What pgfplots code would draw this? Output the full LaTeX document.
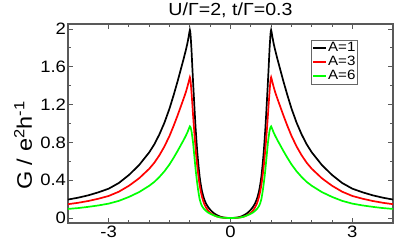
\documentclass[border=0pt]{standalone}
\usepackage{fontspec}
\setmainfont[FakeStretch=1.12]{Liberation Sans}
\usepackage{pgfplots}
\pgfplotsset{compat=1.18}
\pgfplotstableread{
x y
-4 0.195
-3.75 0.215
-3.5 0.24
-3.25 0.272
-3 0.31
-2.75 0.37
-2.5 0.455
-2.25 0.56
-2 0.695
-1.875 0.78
-1.75 0.885
-1.625 1.01
-1.5 1.16
-1.4 1.30
-1.3 1.45
-1.2 1.61
-1.15 1.69
-1.1 1.775
-1.06 1.85
-1.03 1.92
-1.01 1.97
-1 1.99
-0.99 1.97
-0.98 1.92
-0.96 1.78
-0.94 1.6
-0.92 1.43
-0.9 1.27
-0.88 1.11
-0.86 0.96
-0.84 0.83
-0.82 0.71
-0.8 0.61
-0.78 0.52
-0.76 0.44
-0.74 0.375
-0.72 0.325
-0.7 0.28
-0.67 0.23
-0.64 0.19
-0.6 0.15
-0.55 0.115
-0.5 0.088
-0.45 0.066
-0.4 0.048
-0.35 0.034
-0.3 0.023
-0.25 0.014
-0.2 0.008
-0.15 0.004
-0.1 0.002
0 0
0.1 0.002
0.15 0.004
0.2 0.008
0.25 0.014
0.3 0.023
0.35 0.034
0.4 0.048
0.45 0.066
0.5 0.088
0.55 0.115
0.6 0.15
0.64 0.19
0.67 0.23
0.7 0.28
0.72 0.325
0.74 0.375
0.76 0.44
0.78 0.52
0.8 0.61
0.82 0.71
0.84 0.83
0.86 0.96
0.88 1.11
0.9 1.27
0.92 1.43
0.94 1.6
0.96 1.78
0.98 1.92
0.99 1.97
1 1.99
1.01 1.97
1.03 1.92
1.06 1.85
1.1 1.775
1.15 1.69
1.2 1.61
1.3 1.45
1.4 1.30
1.5 1.16
1.625 1.01
1.75 0.885
1.875 0.78
2 0.695
2.25 0.56
2.5 0.455
2.75 0.37
3 0.31
3.25 0.272
3.5 0.24
3.75 0.215
4 0.195
}\dataA
\pgfplotstableread{
x y
-4 0.146
-3.75 0.161
-3.5 0.18
-3.25 0.204
-3 0.233
-2.75 0.278
-2.5 0.341
-2.25 0.42
-2 0.521
-1.875 0.585
-1.75 0.664
-1.625 0.758
-1.5 0.87
-1.4 0.975
-1.3 1.088
-1.2 1.208
-1.15 1.268
-1.1 1.331
-1.06 1.39
-1.03 1.44
-1.01 1.475
-1 1.49
-0.99 1.475
-0.98 1.44
-0.96 1.33
-0.94 1.21
-0.92 1.08
-0.9 0.96
-0.88 0.845
-0.86 0.74
-0.84 0.64
-0.82 0.555
-0.8 0.48
-0.78 0.41
-0.76 0.35
-0.74 0.3
-0.72 0.258
-0.7 0.222
-0.67 0.178
-0.64 0.142
-0.6 0.108
-0.55 0.078
-0.5 0.056
-0.45 0.04
-0.4 0.028
-0.35 0.018
-0.3 0.011
-0.25 0.007
-0.2 0.004
-0.1 0.001
0 0
0.1 0.001
0.2 0.004
0.25 0.007
0.3 0.011
0.35 0.018
0.4 0.028
0.45 0.04
0.5 0.056
0.55 0.078
0.6 0.108
0.64 0.142
0.67 0.178
0.7 0.222
0.72 0.258
0.74 0.3
0.76 0.35
0.78 0.41
0.8 0.48
0.82 0.555
0.84 0.64
0.86 0.74
0.88 0.845
0.9 0.96
0.92 1.08
0.94 1.21
0.96 1.33
0.98 1.44
0.99 1.475
1 1.49
1.01 1.475
1.03 1.44
1.06 1.39
1.1 1.331
1.15 1.268
1.2 1.208
1.3 1.088
1.4 0.975
1.5 0.87
1.625 0.758
1.75 0.664
1.875 0.585
2 0.521
2.25 0.42
2.5 0.341
2.75 0.278
3 0.233
3.25 0.204
3.5 0.18
3.75 0.161
4 0.146
}\dataC
\pgfplotstableread{
x y
-4 0.096
-3.75 0.105
-3.5 0.118
-3.25 0.133
-3 0.152
-2.75 0.181
-2.5 0.223
-2.25 0.274
-2 0.341
-1.875 0.382
-1.75 0.434
-1.625 0.495
-1.5 0.568
-1.4 0.637
-1.3 0.711
-1.2 0.789
-1.15 0.828
-1.1 0.87
-1.06 0.906
-1.03 0.94
-1.01 0.96
-1 0.97
-0.99 0.965
-0.98 0.955
-0.96 0.92
-0.94 0.86
-0.92 0.79
-0.9 0.70
-0.88 0.61
-0.86 0.52
-0.84 0.44
-0.82 0.37
-0.8 0.305
-0.78 0.25
-0.76 0.2
-0.73 0.155
-0.7 0.125
-0.66 0.1
-0.62 0.082
-0.56 0.06
-0.5 0.045
-0.45 0.035
-0.4 0.026
-0.35 0.018
-0.3 0.011
-0.25 0.006
-0.2 0.003
-0.1 0.001
0 0
0.1 0.001
0.2 0.003
0.25 0.006
0.3 0.011
0.35 0.018
0.4 0.026
0.45 0.035
0.5 0.045
0.56 0.06
0.62 0.082
0.66 0.1
0.7 0.125
0.73 0.155
0.76 0.2
0.78 0.25
0.8 0.305
0.82 0.37
0.84 0.44
0.86 0.52
0.88 0.61
0.9 0.70
0.92 0.79
0.94 0.86
0.96 0.92
0.98 0.955
0.99 0.965
1 0.97
1.01 0.96
1.03 0.94
1.06 0.906
1.1 0.87
1.15 0.828
1.2 0.789
1.3 0.711
1.4 0.637
1.5 0.568
1.625 0.495
1.75 0.434
1.875 0.382
2 0.341
2.25 0.274
2.5 0.223
2.75 0.181
3 0.152
3.25 0.133
3.5 0.118
3.75 0.105
4 0.096
}\dataF
\begin{document}
\begin{tikzpicture}
\useasboundingbox (-68pt,-17pt) rectangle (327pt,223pt);
\begin{axis}[
  scale only axis, width=325pt, height=199pt,
  at={(0pt,0pt)}, anchor=south west,
  xmin=-4, xmax=4, ymin=-0.053, ymax=2.053,
  xtick={-3,0,3}, ytick={0,0.4,0.8,1.2,1.6,2},
  minor x tick num=5, minor y tick num=1,
  tick align=inside, xtick pos=both, ytick pos=both,
  major tick length=5pt, minor tick length=3pt,
  axis line style={black!65, line width=1.4pt},
  tick style={black!65, line width=0.9pt},
  /pgf/number format/assume math mode=true,
  ticklabel style={font=\fontsize{16.5}{17}\selectfont},
  yticklabel style={xshift=1.5pt},
  xticklabel style={yshift=1pt},
  title={U/Γ=2, t/Γ=0.3},
  every axis title/.style={font=\fontsize{17.5}{18}\selectfont, at={(axis description cs:0.5,1)}, anchor=base, yshift=8.5pt, inner sep=0pt},
  ylabel={G / e\textsuperscript{2}h\textsuperscript{-1}},
  ylabel style={font=\fontsize{21}{22}\selectfont, at={(axis description cs:-0.138,0.39)}, anchor=center},
  legend style={at={(axis description cs:0.748,0.92)}, anchor=north west, draw=black!60, line width=0.7pt,
    font=\fontsize{13.5}{14}\selectfont, inner sep=1pt, row sep=0pt,
    nodes={inner sep=1pt, text height=9.5pt, text depth=2.5pt}},
  legend cell align=left,
  legend image code/.code={\draw[#1] (0pt,0pt) -- (13pt,0pt);},
]
\addplot[black, line width=1.7pt] table[x=x,y=y] {\dataA};
\addplot[red, line width=1.7pt] table[x=x,y=y] {\dataC};
\addplot[green, line width=1.7pt] table[x=x,y=y] {\dataF};
\legend{A=1, A=3, A=6}
\end{axis}
\end{tikzpicture}
\end{document}
